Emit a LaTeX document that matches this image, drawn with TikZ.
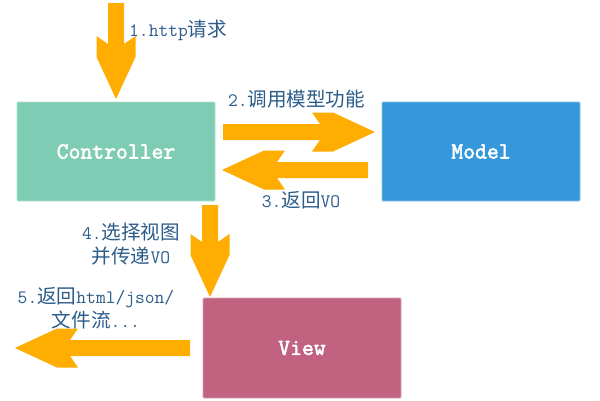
\documentclass[tikz,border=0pt]{standalone}
\usepackage{fontspec}
\setmainfont{Latin Modern Mono}
\newfontfamily\boxfont[FakeBold=2.5]{Latin Modern Mono}
\newfontfamily\cjk[Scale=1.03]{Noto Sans CJK SC}
\usetikzlibrary{calc}
\definecolor{ctrlc}{RGB}{127,204,180}
\definecolor{modelc}{RGB}{52,152,219}
\definecolor{viewc}{RGB}{192,98,128}
\definecolor{arrc}{RGB}{255,173,0}
\definecolor{txtc}{RGB}{44,92,138}
\tikzset{
  box/.style={minimum width=198pt, minimum height=99pt, inner sep=0pt,
    line width=0.8pt, rounded corners=1pt, text=white,
    font=\fontsize{23}{24}\selectfont\boxfont},
  lbl/.style={text=txtc, align=center, inner sep=0pt,
    font=\fontsize{19}{24}\selectfont},
  arrowstyle/.style={fill=arrc}
}
\newcommand\blockarrow[2]{%
  \path let \p1=($(#2)-(#1)$) in \pgfextra{%
    \pgfmathsetmacro\barang{atan2(\y1,\x1)}\global\let\barang\barang
    \pgfmathsetmacro\barlen{veclen(\x1,\y1)}\global\let\barlen\barlen};
  \fill[arrowstyle, shift={(#1)}, rotate=\barang]
    (0pt,-8pt) -- (\barlen pt-55pt,-8pt) -- (\barlen pt-63pt,-19.5pt)
    -- (\barlen pt-42pt,-19.5pt) -- (\barlen pt,0pt)
    -- (\barlen pt-42pt,19.5pt) -- (\barlen pt-63pt,19.5pt)
    -- (\barlen pt-55pt,8pt) -- (0pt,8pt) -- cycle;}
\begin{document}
\begin{tikzpicture}[x=1pt,y=-1pt]
\useasboundingbox[fill=white] (0,0) rectangle (600,400);
% boxes
\node[box, fill=ctrlc, draw=ctrlc!60!white] (ctrl) at (116,151.5) {Controller};
\node[box, fill=modelc, draw=modelc!60!white] (model) at (481,151.5) {Model};
\node[box, fill=viewc, draw=viewc!60!white, minimum height=100pt] (view) at (302,348) {View};
% arrow end points
\coordinate (a1s) at (116,3);   \coordinate (a1e) at (116,99);
\coordinate (a2s) at (223,132); \coordinate (a2e) at (375,132);
\coordinate (a3s) at (368,170); \coordinate (a3e) at (222,170);
\coordinate (a4s) at (210,205); \coordinate (a4e) at (210,297);
\coordinate (a5s) at (190,348); \coordinate (a5e) at (15,348);
\blockarrow{a1s}{a1e}
\blockarrow{a2s}{a2e}
\blockarrow{a3s}{a3e}
\blockarrow{a4s}{a4e}
\blockarrow{a5s}{a5e}
% labels
\node[lbl, anchor=west] (l1) at (129,30) {1.http{\cjk 请求}};
\node[lbl] (l2) at (296.5,99) {2.{\cjk 调用模型功能}};
\node[lbl] (l3) at (301,200) {3.{\cjk 返回}VO};
\node[lbl] (l4) at (131,244) {4.{\cjk 选择视图}\\{\cjk 并传递}VO};
\node[lbl] (l5) at (96,308) {5.{\cjk 返回}html/json/\\{\cjk 文件流}...};
\end{tikzpicture}
\end{document}
